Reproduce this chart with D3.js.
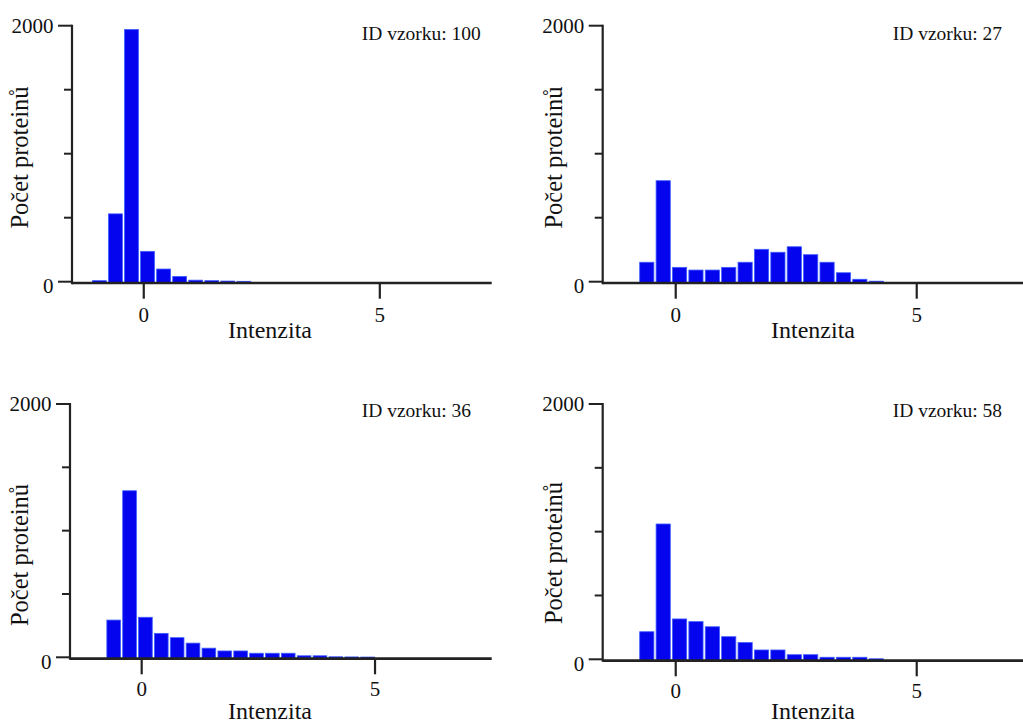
<!DOCTYPE html>
<html><head><meta charset="utf-8">
<script src="https://cdn.jsdelivr.net/npm/d3@7"></script>
<style>
body{margin:0;background:#fff}
svg{display:block}
text{font-family:"Liberation Serif","Times New Roman",serif;fill:#111}
</style>
</head><body>
<svg id="c" width="1023" height="724"></svg>
<script>
// ---- data ----
const sampleIds = [100, 27, 36, 58];
const binStart = -1.11;
const binWidth = 0.34;
const counts100 = [8, 530, 1970, 237, 99, 41, 12, 8, 5, 3];
const counts27  = [0, 152, 789, 112, 91, 91, 112, 152, 253, 230, 273, 211, 152, 70, 19, 4];
const counts36  = [0, 294, 1315, 316, 189, 155, 112, 72, 50, 50, 32, 32, 32, 12, 12, 4, 3, 2];
const counts58  = [0, 216, 1060, 316, 295, 255, 177, 131, 73, 73, 36, 36, 16, 16, 16, 4];
const yTicks = [0, 500, 1000, 1500, 2000];
const yLabelTicks = [0, 2000];
const xTicks = [0, 5];
const xTitle = "Intenzita";
const yTitle = "Počet proteinů";
const idPrefix = "ID vzorku: ";

// ---- layout (positions only) ----
const layout = [
  {left:72,    right:491.7, xMin:-1.52,  xMax:7.37, top:25.7, zero:281.7, idX:361.7, idY:40,    tickY:322, titleX:270, titleY:338, yTX:28,  yTY:157.5},
  {left:602.7, right:1023,  xMin:-1.515, xMax:7.205,top:25.7, zero:281.7, idX:892.7, idY:40,    tickY:322, titleX:813, titleY:338, yTX:562, yTY:157.5},
  {left:70,    right:491.7, xMin:-1.536, xMax:7.5,  top:404,  zero:657.3, idX:361.7, idY:416.7, tickY:696, titleX:270, titleY:719, yTX:28,  yTY:555},
  {left:602.7, right:1023,  xMin:-1.515, xMax:7.205,top:404,  zero:659.3, idX:892.7, idY:416.7, tickY:698, titleX:813, titleY:719, yTX:562, yTY:553}
];
const allCounts = [counts100, counts27, counts36, counts58];

const svg = d3.select("#c");

layout.forEach((L, p) => {
  const counts = allCounts[p];
  const x = d3.scaleLinear().domain([L.xMin, L.xMax]).range([L.left, L.right]);
  const y = d3.scaleLinear().domain([0, 2000]).range([L.zero, L.top]);
  const g = svg.append("g");

  const bins = counts.map((c, i) => ({x0: binStart + i*binWidth, x1: binStart + (i+1)*binWidth, c}))
                     .filter(d => d.c > 0);

  g.selectAll("rect.bar").data(bins).enter().append("rect")
    .attr("class", "bar")
    .attr("x", d => x(d.x0) + 1.1)
    .attr("width", d => x(d.x1) - x(d.x0) - 2.2)
    .attr("y", d => y(d.c))
    .attr("height", d => y(0) - y(d.c) + 1)
    .attr("fill", "#0404ee")
    .attr("stroke", "#3d5cff")
    .attr("stroke-width", 0.8);

  // y axis line
  g.append("line")
    .attr("x1", L.left).attr("x2", L.left)
    .attr("y1", y(2000) - 1).attr("y2", y(0) + 2.5)
    .attr("stroke", "#222").attr("stroke-width", 2.2);
  // y ticks
  g.selectAll("line.yt").data(yTicks).enter().append("line")
    .attr("x1", d => L.left - (yLabelTicks.includes(d) ? 14 : 8))
    .attr("x2", L.left)
    .attr("y1", d => y(d)).attr("y2", d => y(d))
    .attr("stroke", "#222").attr("stroke-width", 2);
  g.selectAll("text.yl").data(yLabelTicks).enter().append("text")
    .attr("x", L.left - 18.5)
    .attr("y", d => y(d) + (d === 0 ? 11.5 : 7))
    .attr("text-anchor", "end")
    .attr("font-size", 21)
    .text(d => d);

  // x axis line
  g.append("line")
    .attr("x1", L.left).attr("x2", L.right)
    .attr("y1", y(0) + 1.3).attr("y2", y(0) + 1.3)
    .attr("stroke", "#222").attr("stroke-width", 2.6);
  g.selectAll("line.xt").data(xTicks).enter().append("line")
    .attr("x1", d => x(d)).attr("x2", d => x(d))
    .attr("y1", y(0) + 1).attr("y2", y(0) + 17)
    .attr("stroke", "#222").attr("stroke-width", 2.2);
  g.selectAll("text.xl").data(xTicks).enter().append("text")
    .attr("x", d => x(d))
    .attr("y", L.tickY)
    .attr("text-anchor", "middle")
    .attr("font-size", 21)
    .text(d => d);

  // titles
  g.append("text")
    .attr("x", L.titleX).attr("y", L.titleY)
    .attr("text-anchor", "middle")
    .attr("font-size", 24)
    .text(xTitle);
  g.append("text")
    .attr("transform", `translate(${L.yTX},${L.yTY}) rotate(-90)`)
    .attr("text-anchor", "middle")
    .attr("font-size", 24.5)
    .text(yTitle);

  g.append("text")
    .attr("x", L.idX).attr("y", L.idY)
    .attr("font-size", 19.5)
    .text(idPrefix + sampleIds[p]);
});
</script>
</body></html>
